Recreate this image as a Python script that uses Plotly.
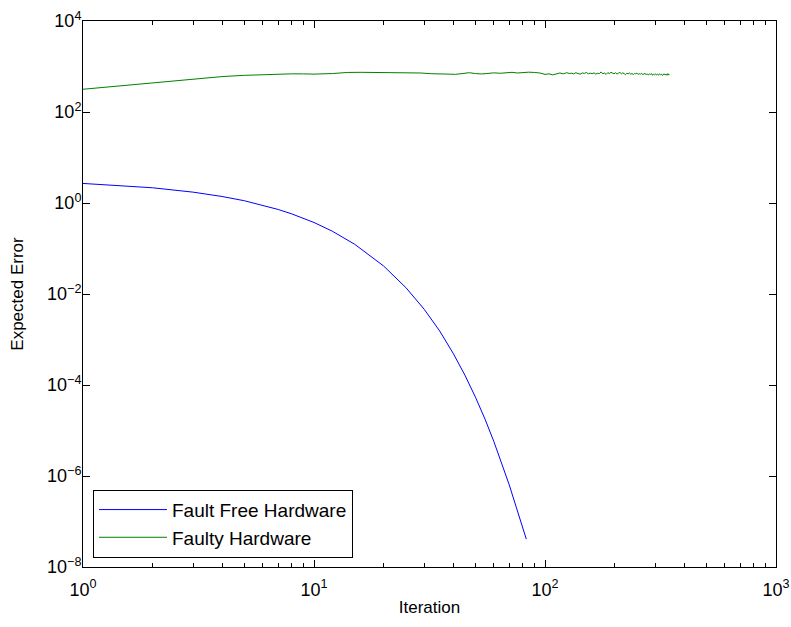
import plotly.graph_objects as go

# Fault free hardware (blue)
free_iter = [1, 2, 3, 4, 5, 6, 7, 8, 10, 12, 15, 20, 25, 30, 35, 40, 45, 50, 55, 60, 65, 70, 75, 80, 83]
free_err = [2.69, 2.16, 1.73, 1.39, 1.12, 0.897, 0.72, 0.578, 0.373, 0.240, 0.124, 0.0414, 0.0138,
            0.00461, 0.00154, 5.0e-4, 1.65e-4, 5.4e-5, 1.78e-5, 5.8e-6, 1.9e-6, 6.4e-7, 2.1e-7, 7.2e-8, 4.1e-8]

# Faulty hardware (green)
faulty_iter = [1, 2, 3, 4, 5, 6, 7, 8, 9, 10, 12, 14, 16, 18, 20, 23, 26, 29, 32, 35, 38, 41, 44, 47,
               50, 53, 56, 60, 64, 68, 72, 76, 80, 85, 90, 95, 100, 104, 108, 112, 116, 120, 124, 128,
               130, 133, 136, 139, 142, 145, 148, 151, 154, 157, 160, 163, 166, 169, 172, 175, 178, 181,
               184, 187, 190, 193, 196, 199, 202, 205, 208, 211, 214, 217, 220, 223, 226, 229, 232, 235,
               238, 241, 244, 247, 250, 253, 256, 259, 262, 265, 268, 271, 274, 277, 280, 283, 286, 289,
               292, 295, 298, 301, 304, 307, 310, 313, 316, 319, 322, 325, 328, 331, 334, 337, 340, 343, 346]
faulty_err = [316, 436, 525, 600, 640, 665, 672, 690, 688, 680, 700, 740, 745, 738, 733, 750, 730, 720, 695, 700,
              680, 672, 700, 730, 700, 685, 700, 725, 710, 735, 745, 720, 740, 750, 740, 720, 670, 690, 655,
              700, 720, 690, 730, 700,
              715, 690, 730, 700, 680, 720, 705, 740, 690, 715, 695, 725, 680, 710, 700, 760, 690, 720,
              670, 735, 700, 745, 710, 690, 730, 680, 715, 740, 690, 725, 700, 660, 710, 690, 720, 680,
              700, 665, 705, 690, 715, 670, 695, 680, 710, 660, 690, 700, 665, 685, 650, 690, 670, 700,
              640, 680, 660, 690, 650, 675, 645, 690, 660, 680, 640, 670, 690, 650, 680, 640, 700, 650, 660]

x_ticks = [1, 10, 100, 1000]
x_labels = ["10<sup>0</sup>", "10<sup>1</sup>", "10<sup>2</sup>", "10<sup>3</sup>"]
x_minor = [2, 3, 4, 5, 6, 7, 8, 9, 20, 30, 40, 50, 60, 70, 80, 90, 200, 300, 400, 500, 600, 700, 800, 900]
y_ticks = [1e-8, 1e-6, 1e-4, 1e-2, 1, 1e2, 1e4]
y_labels = ["10<sup>\u22128</sup>", "10<sup>\u22126</sup>", "10<sup>\u22124</sup>", "10<sup>\u22122</sup>",
            "10<sup>0</sup>", "10<sup>2</sup>", "10<sup>4</sup>"]

font = "Liberation Sans, Arial, Helvetica, sans-serif"

fig = go.Figure()
fig.add_trace(go.Scatter(x=free_iter, y=free_err, mode="lines", name="Fault Free Hardware",
                         line=dict(color="#0000ff", width=1)))
fig.add_trace(go.Scatter(x=faulty_iter, y=faulty_err, mode="lines", name="Faulty Hardware",
                         line=dict(color="#008000", width=1)))

axis_common = dict(
    showline=True, linecolor="black", linewidth=1, mirror="ticks",
    ticks="inside", ticklen=7, tickcolor="black", tickwidth=1,
    showgrid=False, zeroline=False, automargin=False,
    tickfont=dict(family=font, size=18, color="black"),
)

fig.update_layout(
    width=791, height=627,
    margin=dict(l=83, r=15, t=21, b=60),
    paper_bgcolor="white", plot_bgcolor="white",
    font=dict(family=font, size=17, color="black"),
    xaxis=dict(type="log", range=[0, 3], tickmode="array", tickvals=x_ticks, ticktext=x_labels,
               ticklabelstandoff=6,
               title=dict(text="Iteration", font=dict(size=17), standoff=2),
               minor=dict(ticks="inside", ticklen=4, tickcolor="black", showgrid=False,
                          tickmode="array", tickvals=x_minor),
               **axis_common),
    yaxis=dict(type="log", range=[-8, 4], tickmode="array", tickvals=y_ticks, ticktext=y_labels,
               ticklabelstandoff=-3,
               title=dict(text="Expected Error", font=dict(size=17), standoff=19),
               **axis_common),
    legend=dict(x=0.0144, y=0.017, xanchor="left", yanchor="bottom",
                bgcolor="white", bordercolor="black", borderwidth=1,
                font=dict(family=font, size=19, color="black"),
                tracegroupgap=0, itemwidth=68),
    showlegend=True,
)

fig.write_html("out.html", config={"displayModeBar": False},
               post_script="document.body.style.margin='0';document.body.style.padding='0';")
